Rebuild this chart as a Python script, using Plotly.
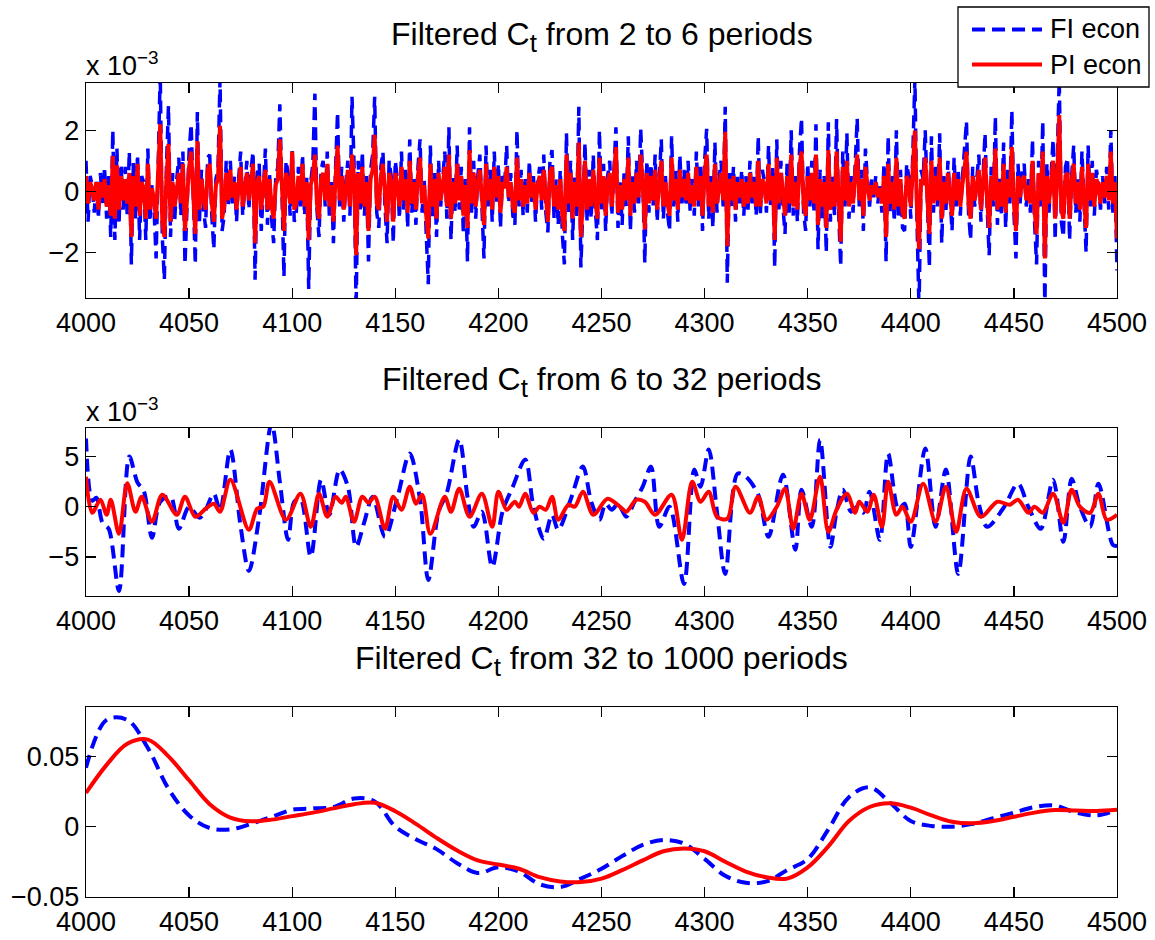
import plotly.graph_objects as go

# ---------------- data ----------------
x_ticks = [4000, 4050, 4100, 4150, 4200, 4250, 4300, 4350, 4400, 4450, 4500]

# Panel 1: filtered C_t, 2-6 periods (units of 1e-3), one value per period 4000..4500
fi1 = [
    1.0, -1.0, 0.5, 0.2, -0.7, 0.4, -0.9, 0.6, -0.5, 0.8,
    -0.9, 0.5, -1.5, 2.0, -1.6, 1.4, -1.1, 0.9, -0.6, 0.8,
    -0.8, 1.3, -2.4, 1.0, -0.9, 1.2, -1.6, 0.5, 0.3, -1.6,
    1.4, -1.0, 0.2, -0.6, -2.2, 1.2, 3.9, -1.5, -2.9, 0.8,
    2.8, -1.5, 0.6, -1.0, 0.4, 1.1, -0.8, 1.3, -2.4, -0.5,
    1.3, 2.2, -0.4, -2.4, 2.6, -1.0, 0.7, -0.6, -1.2, 1.1,
    1.2, -0.8, -1.9, 0.4, 0.7, 3.7, -1.3, -0.8, 1.0, -0.5,
    1.0, -0.4, 0.5, -1.0, 0.4, 1.3, -0.8, 0.2, 1.0, -0.6,
    0.7, 1.3, -2.9, 0.6, 0.9, -1.3, 0.4, 1.4, -1.1, 0.6,
    -0.9, -1.7, 0.4, 0.8, 2.85, -0.4, -2.8, 1.0, 0.6, -0.8,
    1.4, -1.0, -0.7, 0.8, -0.5, 1.2, -0.8, 0.5, -3.2, 0.3,
    0.9, 3.2, -0.6, -1.5, 0.7, 1.0, -0.5, 1.3, -0.8, 0.3,
    -1.7, 0.7, 2.6, -0.5, 0.8, -1.0, 0.3, 1.0, -0.8, 3.1,
    0.9, -3.9, 1.0, -0.7, 1.3, -0.8, 0.5, -2.3, 0.7, 1.2,
    3.1, -0.7, -1.2, 0.8, 1.3, -0.5, -1.7, 1.0, 0.5, -1.7,
    1.0, 0.4, -0.9, 1.3, -0.6, 0.7, -1.2, 1.7, -0.7, 0.5,
    -1.1, 0.8, 1.7, -0.7, 0.4, -1.4, -3.05, 1.5, -0.9, 0.6,
    -1.5, 1.0, -0.5, 0.4, 1.3, -0.9, 2.1, -1.6, 0.5, -0.7,
    1.5, -0.6, 0.8, -1.4, 0.4, -2.3, 2.1, -0.7, 1.0, -0.9,
    0.5, 1.2, -0.7, -2.2, 1.5, -0.5, 0.7, -1.0, 1.3, -0.4,
    0.9, -1.2, 0.5, 0.2, 1.5, -0.4, 0.6, -0.8, -1.1, 2.0,
    -0.5, 0.7, -0.8, 0.4, -0.7, 1.0, -0.4, 0.5, -1.0, 0.3,
    0.8, -0.6, 1.2, -0.7, -1.35, 1.0, 1.35, -0.9, 0.4, -1.1,
    0.7, -1.4, -2.4, 1.9, -0.7, 1.0, -1.6, 0.5, -0.9, 2.77,
    -2.5, -0.5, 1.6, -1.0, 0.7, -0.9, 1.2, -0.6, -1.6, 2.0,
    -0.7, 0.9, -1.3, 0.5, 1.0, -0.8, 0.7, 2.1, -1.2, 0.4,
    -1.1, 0.7, -0.5, 1.8, -1.3, 0.5, -0.7, 1.0, -0.4, 2.05,
    0.5, -2.35, 1.0, -0.7, 0.9, -0.5, 1.2, -1.0, 0.4, 1.7,
    -0.9, 0.5, -0.7, -1.3, 1.8, -0.5, 0.7, -1.0, 1.2, -0.4,
    0.7, -0.5, 1.0, -0.7, 0.4, -0.8, 1.3, -0.5, 0.8, -1.3,
    1.0, 2.05, -0.9, 0.5, -1.2, 1.6, -0.7, 0.4, 1.0, -0.5,
    2.77, -3.0, 0.7, -0.5, 0.8, -1.0, 0.5, -0.4, 0.7, -0.8,
    0.5, -0.7, 1.0, -0.4, 0.5, -0.8, 1.8, -0.8, 0.7, 0.3,
    -0.7, 1.5, -0.5, 0.8, -2.5, 1.7, -0.7, 1.0, -0.5, -1.4,
    0.9, -0.7, 2.0, -0.8, 0.5, -1.0, 1.3, 2.4, -0.7, -1.3,
    0.9, -0.5, 1.0, -0.7, 2.2, -1.9, 0.7, -0.9, 0.5, -2.0,
    2.26, -1.0, 0.5, -0.8, 2.37, -0.7, -2.46, 1.3, -0.5, 1.9,
    -0.9, 0.5, -0.7, 1.0, 2.39, -0.5, 0.7, -1.3, 1.4, 0.3,
    -0.5, 0.4, -0.2, 0.5, -0.4, 0.2, -0.7, 0.9, -2.3, 1.8,
    -0.7, 0.5, -1.0, 2.0, -0.9, 0.7, -1.2, -1.3, 0.9, 0.5,
    -0.9, 1.3, 3.7, -1.0, -3.9, 0.7, 0.4, 2.0, -0.7, -2.5,
    1.8, -0.7, 0.8, -0.5, 1.9, -1.7, 0.5, -0.7, 1.0, -0.4,
    -1.3, 1.1, -0.5, 0.7, -0.8, 0.4, 1.2, 2.3, -0.7, -1.6,
    0.8, -0.5, 0.4, 1.2, -1.0, 0.7, 1.9, -0.5, -2.1, 0.8,
    -0.5, 2.45, -1.1, 0.5, -0.8, 1.6, -1.2, 0.7, -0.4, 2.65,
    -0.7, -2.2, 0.9, -0.4, 0.7, 0.9, -0.5, 0.4, -0.7, 1.7,
    -1.0, -2.4, 1.0, -0.5, 2.3, -3.9, 0.9, -0.7, 0.5, 1.7,
    -1.6, 0.7, 3.7, -1.0, -1.5, 0.8, 1.1, -1.6, 0.5, 1.5,
    -0.7, 0.5, -1.0, 1.3, -0.5, -2.0, 1.5, -0.5, 1.0, -0.8,
    0.7, 0.3, -0.6, 0.5, -0.4, 0.8, -0.6, 2.0, -0.7, 0.5,
    -2.6,
]
pi1 = [
    0.5, -0.4, 0.3, 0.1, -0.3, 0.3, -0.6, 0.3, -0.2, 0.4,
    -0.5, 0.2, -0.8, 1.15, -0.9, 0.85, -0.6, 0.5, -0.3, 0.4,
    -0.4, 0.6, -1.5, 0.5, -0.5, 0.9, -0.8, 0.3, 0.1, -0.9,
    0.9, -0.6, 0.1, -0.3, -0.9, 0.5, 2.2, -1.0, -1.5, 0.4,
    1.55, -1.0, 0.3, -0.5, 0.2, 0.6, -0.4, 0.9, -1.3, -0.3,
    0.8, 1.3, -0.2, -1.4, 1.65, -0.6, 0.4, -0.3, -0.6, 0.7,
    0.9, -0.4, -1.0, 0.2, 0.4, 2.15, -0.9, -0.5, 0.6, -0.3,
    0.7, -0.2, 0.3, -0.6, 0.2, 0.8, -0.5, 0.1, 0.6, -0.3,
    0.4, 0.9, -1.7, 0.3, 0.5, -0.6, 0.2, 0.7, -0.6, 0.4,
    -0.5, -0.9, 0.2, 0.4, 1.7, -0.2, -1.3, 0.6, 0.3, -0.4,
    1.3, -0.6, -0.4, 0.5, -0.3, 0.9, -0.5, 0.3, -1.6, 0.2,
    0.5, 1.2, -0.4, -0.9, 0.4, 0.6, -0.3, 0.9, -0.5, 0.2,
    -1.0, 0.4, 1.5, -0.3, 0.5, -0.6, 0.2, 0.7, -0.5, 1.2,
    0.5, -2.1, 0.6, -0.4, 0.8, -0.5, 0.3, -1.3, 0.4, 0.7,
    1.85, -0.4, -0.6, 0.5, 0.9, -0.3, -1.0, 0.6, 0.3, -1.0,
    0.6, 0.2, -0.5, 0.8, -0.3, 0.4, -0.7, 1.0, -0.4, 0.3,
    -0.6, 0.5, 1.1, -0.4, 0.2, -0.8, -1.55, 0.9, -0.5, 0.4,
    -0.9, 0.6, -0.3, 0.2, 0.8, -0.5, 1.2, -0.9, 0.3, -0.4,
    0.9, -0.3, 0.5, -0.8, 0.2, -1.2, 1.35, -0.4, 0.6, -0.5,
    0.3, 0.7, -0.4, -1.1, 0.9, -0.3, 0.4, -0.6, 0.8, -0.2,
    0.5, -0.7, 0.3, 0.1, 0.8, -0.2, 0.3, -0.5, -0.7, 1.1,
    -0.3, 0.4, -0.5, 0.2, -0.4, 0.6, -0.2, 0.3, -0.6, 0.2,
    0.5, -0.3, 0.7, -0.4, -1.0, 0.6, 0.8, -0.5, 0.2, -0.6,
    0.4, -0.8, -1.3, 1.2, -0.4, 0.6, -0.9, 0.3, -0.5, 1.6,
    -1.5, -0.3, 1.0, -0.6, 0.4, -0.5, 0.7, -0.3, -0.9, 1.1,
    -0.4, 0.5, -0.8, 0.3, 0.6, -0.5, 0.4, 1.45, -0.7, 0.2,
    -0.6, 0.4, -0.3, 1.1, -0.8, 0.3, -0.4, 0.6, -0.2, 1.2,
    0.3, -1.25, 0.6, -0.4, 0.5, -0.3, 0.7, -0.6, 0.2, 1.0,
    -0.5, 0.3, -0.4, -0.8, 1.1, -0.3, 0.4, -0.6, 0.7, -0.2,
    0.4, -0.3, 0.6, -0.4, 0.2, -0.5, 0.8, -0.3, 0.5, -0.8,
    0.6, 1.2, -0.5, 0.3, -0.7, 0.9, -0.4, 0.2, 0.6, -0.3,
    1.95, -1.8, 0.4, -0.3, 0.5, -0.6, 0.3, -0.2, 0.4, -0.5,
    0.3, -0.4, 0.6, -0.2, 0.3, -0.5, 1.0, -0.5, 0.4, 0.2,
    -0.4, 0.9, -0.3, 0.5, -1.6, 1.1, -0.4, 0.6, -0.3, -0.8,
    0.5, -0.4, 1.2, -0.5, 0.3, -0.6, 0.8, 1.3, -0.4, -0.8,
    0.5, -0.3, 0.6, -0.4, 1.2, -1.1, 0.4, -0.5, 0.3, -1.2,
    1.35, -0.6, 0.3, -0.5, 1.3, -0.4, -1.65, 0.8, -0.3, 1.0,
    -0.5, 0.3, -0.4, 0.6, 1.2, -0.3, 0.4, -0.8, 0.8, 0.2,
    -0.3, 0.2, -0.1, 0.3, -0.2, 0.1, -0.4, 0.5, -1.5, 0.9,
    -0.4, 0.3, -0.6, 1.1, -0.5, 0.4, -0.7, -0.9, 0.5, 0.3,
    -0.5, 0.8, 1.99, -0.6, -1.9, 0.4, 0.2, 1.1, -0.4, -1.4,
    1.0, -0.4, 0.5, -0.3, 1.1, -0.9, 0.3, -0.4, 0.6, -0.2,
    -0.8, 0.6, -0.3, 0.4, -0.5, 0.2, 0.7, 1.3, -0.4, -0.9,
    0.5, -0.3, 0.2, 0.7, -0.6, 0.4, 1.1, -0.3, -1.2, 0.5,
    -0.3, 1.4, -0.6, 0.3, -0.5, 0.9, -0.7, 0.4, -0.2, 1.45,
    -0.4, -1.3, 0.5, -0.2, 0.4, 0.5, -0.3, 0.2, -0.4, 1.0,
    -0.6, -1.4, 0.6, -0.3, 1.3, -2.2, 0.5, -0.4, 0.3, 1.0,
    -0.9, 0.4, 2.5, -0.6, -0.9, 0.5, 0.6, -0.9, 0.3, 0.9,
    -0.4, 0.3, -0.6, 0.8, -0.3, -1.2, 0.9, -0.3, 0.6, -0.5,
    0.4, 0.2, -0.4, 0.3, -0.2, 0.5, -0.3, 1.3, -0.4, 0.3,
    -1.55,
]
periods1 = list(range(4000, 4501))
assert len(fi1) == 501 and len(pi1) == 501, (len(fi1), len(pi1))

# Panel 2: filtered C_t, 6-32 periods (units of 1e-3), turning points
fi2_x = [4000, 4003, 4005, 4008, 4011, 4016, 4021, 4025, 4028, 4032, 4036, 4041, 4045, 4050,
         4055, 4058, 4062, 4065, 4070, 4075, 4079, 4084, 4090, 4094, 4098, 4101, 4104, 4109,
         4114, 4118, 4123, 4127, 4131, 4135, 4139, 4145, 4151, 4157, 4162, 4166, 4171, 4175,
         4181, 4185, 4188, 4192, 4197, 4202, 4207, 4213, 4217, 4222, 4226, 4229, 4235, 4241,
         4245, 4249, 4252, 4255, 4258, 4262, 4266, 4270, 4274, 4278, 4283, 4290, 4295, 4298,
         4302, 4306, 4310, 4316, 4320, 4326, 4331, 4338, 4344, 4347, 4352, 4356, 4361, 4364,
         4367, 4371, 4374, 4377, 4380, 4385, 4389, 4394, 4397, 4400, 4407, 4412, 4417, 4423,
         4429, 4433, 4437, 4445, 4452, 4457, 4463, 4469, 4474, 4478, 4482, 4487, 4491, 4498,
         4500]
fi2 = [6.8, 0.6, 0.9, -1.6, -2.2, -8.4, 5.0, 2.4, 1.6, -3.1, 0.5, 1.0, -2.2, 0.0,
       -1.1, -0.3, 1.3, -0.4, 5.7, -2.0, -6.4, -1.0, 8.3, 2.5, -3.3, 0.5, 0.8, -5.0,
       2.7, -0.8, 3.7, 2.0, -4.0, -1.5, 1.0, -3.0, 0.9, 5.3, 0.7, -7.3, -0.5, 1.4,
       6.7, 1.0, -2.0, -0.5, -6.0, -0.5, 2.0, 4.7, 0.0, -3.2, -0.8, -2.3, 0.7, 4.0,
       0.5, -1.3, 0.3, -0.3, 0.3, -1.0, 0.5, 2.0, 4.0, -2.0, 0.0, -7.7, 3.7, 2.0,
       5.7, -0.5, -6.7, 3.3, 3.0, 1.2, -3.0, 3.2, -4.3, 1.7, -2.0, 6.7, -4.0, -0.5,
       1.7, -0.5, 0.0, -0.6, 1.5, -3.3, 5.3, -0.3, 0.3, -4.0, 5.8, -2.0, 3.7, -6.7,
       5.0, 0.3, -2.0, -0.1, 2.3, 0.0, -2.2, 2.7, -3.5, 2.8, 0.0, -2.0, 2.3, -3.8,
       -3.9]
pi2_x = [4000, 4003, 4007, 4010, 4012, 4016, 4020, 4024, 4027, 4032, 4037, 4044, 4048, 4053,
         4058, 4062, 4065, 4070, 4079, 4083, 4086, 4089, 4097, 4104, 4109, 4113, 4117, 4121,
         4124, 4126, 4130, 4134, 4137, 4140, 4145, 4149, 4153, 4157, 4160, 4163, 4167, 4174,
         4177, 4181, 4186, 4192, 4197, 4200, 4204, 4208, 4210, 4213, 4217, 4220, 4223, 4226,
         4229, 4234, 4237, 4241, 4246, 4253, 4260, 4262, 4267, 4271, 4276, 4284, 4289, 4294,
         4298, 4302, 4306, 4311, 4315, 4322, 4326, 4330, 4335, 4339, 4343, 4347, 4351, 4356,
         4360, 4364, 4369, 4373, 4375, 4379, 4382, 4386, 4389, 4393, 4396, 4400, 4406, 4412,
         4417, 4422, 4427, 4434, 4442, 4448, 4452, 4457, 4460, 4464, 4469, 4474, 4478, 4482,
         4487, 4491, 4495, 4500]
pi2 = [3.0, -0.6, 0.7, -0.8, 0.7, -2.7, 2.35, -0.5, 1.0, -1.5, 1.2, -0.8, 1.0, -1.0,
       -0.2, 0.3, -0.5, 2.7, -2.3, -0.2, 0.0, 2.5, -1.3, 1.3, -2.0, 1.3, -1.0, 1.0,
       0.4, 1.0, -1.5, 1.0, 0.4, 1.0, -2.2, 1.0, -0.3, 2.0, 0.3, 1.2, -2.7, 1.0,
       -0.5, 1.8, -1.0, 1.3, -2.0, 1.5, -0.3, 0.5, 0.0, 1.3, -0.6, 0.0, -0.3, 1.0,
       -1.3, 0.2, 0.0, 1.5, -0.8, 0.8, -0.2, -0.5, 0.7, 0.5, -0.8, 1.2, -3.3, 2.5,
       0.5, 1.5, -1.0, -1.2, 2.0, -0.6, 1.0, -1.3, 0.0, 1.8, -2.2, 1.3, -1.3, 3.0,
       -2.5, -0.3, 1.3, -0.6, 0.5, -0.5, 1.2, -2.0, 2.5, -0.8, 0.0, -1.5, 2.3, -1.5,
       2.0, -2.5, 1.8, -1.0, 0.5, 0.2, 0.7, -0.6, 0.0, -0.6, 1.3, -1.6, 1.7, 0.0,
       -0.6, 1.3, -1.3, -0.8]

# Panel 3: filtered C_t, 32-1000 periods, every 10 periods
periods3 = list(range(4000, 4501, 10))
fi3 = [0.042, 0.076, 0.076, 0.056, 0.027, 0.008, -0.001, -0.002, 0.002, 0.007,
       0.012, 0.013, 0.014, 0.020, 0.018, 0.000, -0.009, -0.016, -0.026, -0.033,
       -0.029, -0.032, -0.041, -0.043, -0.037, -0.030, -0.021, -0.013, -0.0095, -0.012,
       -0.023, -0.035, -0.040, -0.039, -0.031, -0.023, -0.002, 0.021, 0.028, 0.017,
       0.004, 0.0005, 0.0, 0.002, 0.006, 0.010, 0.014, 0.015, 0.010, 0.008,
       0.012]
pi3 = [0.024, 0.044, 0.059, 0.062, 0.050, 0.033, 0.016, 0.0065, 0.0038, 0.005,
       0.0075, 0.010, 0.013, 0.016, 0.017, 0.011, 0.002, -0.008, -0.017, -0.024,
       -0.027, -0.030, -0.036, -0.039, -0.0395, -0.037, -0.031, -0.024, -0.0175, -0.0155,
       -0.0175, -0.025, -0.032, -0.036, -0.037, -0.029, -0.014, 0.004, 0.014, 0.0166,
       0.0135, 0.008, 0.0035, 0.0024, 0.004, 0.007, 0.010, 0.0118, 0.0115, 0.0112,
       0.012]

SUB_T = "C<sub><span style=\"font-size:26px\">t</span></sub>"
titles = ["Filtered " + SUB_T + " from 2 to 6 periods",
          "Filtered " + SUB_T + " from 6 to 32 periods",
          "Filtered " + SUB_T + " from 32 to 1000 periods"]
series_names = ["FI econ", "PI econ"]

# ---------------- styling / layout ----------------
W, H = 1155, 940
FONT = "Liberation Sans, Arial, Helvetica, sans-serif"
BLUE = "#0000FF"
RED = "#FF0000"
DASH = "13px,7px"


def px_x(p):
    return p / W


def px_y(p):
    return 1 - p / H


X0, X1 = 86, 1117
panels = [(83, 298), (428, 596), (707, 897)]

fig = go.Figure()

fig.add_trace(go.Scatter(x=periods1, y=fi1, mode="lines", xaxis="x", yaxis="y",
                         line=dict(color=BLUE, width=3.5, dash=DASH), showlegend=False,
                         hoverinfo="skip"))
fig.add_trace(go.Scatter(x=periods1, y=pi1, mode="lines", xaxis="x", yaxis="y",
                         line=dict(color=RED, width=4), showlegend=False, hoverinfo="skip"))
fig.add_trace(go.Scatter(x=fi2_x, y=fi2, mode="lines", xaxis="x2", yaxis="y2",
                         line=dict(color=BLUE, width=4, dash=DASH, shape="spline", smoothing=0.9),
                         showlegend=False, hoverinfo="skip"))
fig.add_trace(go.Scatter(x=pi2_x, y=pi2, mode="lines", xaxis="x2", yaxis="y2",
                         line=dict(color=RED, width=4, shape="spline", smoothing=0.9),
                         showlegend=False, hoverinfo="skip"))
fig.add_trace(go.Scatter(x=periods3, y=fi3, mode="lines", xaxis="x3", yaxis="y3",
                         line=dict(color=BLUE, width=4, dash=DASH, shape="spline"),
                         showlegend=False, hoverinfo="skip"))
fig.add_trace(go.Scatter(x=periods3, y=pi3, mode="lines", xaxis="x3", yaxis="y3",
                         line=dict(color=RED, width=4, shape="spline"),
                         showlegend=False, hoverinfo="skip"))

common_axis = dict(showline=True, linecolor="black", linewidth=1.3, mirror="ticks",
                   ticks="inside", ticklen=10, tickwidth=1.3, tickcolor="black",
                   showgrid=False, zeroline=False, automargin=False,
                   tickfont=dict(family=FONT, size=27, color="black"))

y_ranges = [[-3.5, 3.55], [-8.9, 7.85], [-0.0501, 0.0852]]
y_ticks = [[-2, 0, 2], [-5, 0, 5], [-0.05, 0, 0.05]]
y_ticktext = [["\u22122", "0", "2"], ["\u22125", "0", "5"], ["\u22120.05", "0", "0.05"]]

layout = dict(width=W, height=H, margin=dict(l=0, r=0, t=0, b=0, autoexpand=False),
              paper_bgcolor="white", plot_bgcolor="white", showlegend=False)
for i, (top, bot) in enumerate(panels):
    sfx = "" if i == 0 else str(i + 1)
    layout["xaxis" + sfx] = dict(common_axis, domain=[px_x(X0), px_x(X1)], range=[4000, 4500],
                                 tickvals=x_ticks, anchor="y" + sfx)
    layout["yaxis" + sfx] = dict(common_axis, domain=[px_y(bot), px_y(top)], range=y_ranges[i],
                                 tickvals=y_ticks[i], ticktext=y_ticktext[i], anchor="x" + sfx)
fig.update_layout(**layout)

title_y = [37, 382, 661]
annotations = []
for t, ty in zip(titles, title_y):
    annotations.append(dict(text=t, x=px_x((X0 + X1) / 2), y=px_y(ty), xref="paper", yref="paper",
                            xanchor="center", yanchor="middle", showarrow=False,
                            font=dict(family=FONT, size=32, color="black")))
for ty in [64, 410]:
    annotations.append(dict(text="x 10<sup>\u22123</sup>", x=px_x(X0 - 2), y=px_y(ty), xref="paper",
                            yref="paper", xanchor="left", yanchor="middle", showarrow=False,
                            font=dict(family=FONT, size=27, color="black")))

# legend drawn by hand (box, samples, labels)
LX0, LX1, LY0, LY1 = 958, 1149, 7, 87
shapes = [dict(type="rect", xref="paper", yref="paper", x0=px_x(LX0), x1=px_x(LX1),
               y0=px_y(LY1), y1=px_y(LY0), fillcolor="white",
               line=dict(color="black", width=1.3), layer="above")]
legend_rows = [(series_names[0], BLUE, DASH, 29.5), (series_names[1], RED, "solid", 64.5)]
for name, col, dash, ly in legend_rows:
    shapes.append(dict(type="line", xref="paper", yref="paper", x0=px_x(972), x1=px_x(1042),
                       y0=px_y(ly), y1=px_y(ly), line=dict(color=col, width=4, dash=dash),
                       layer="above"))
    annotations.append(dict(text=name, x=px_x(1048), y=px_y(ly), xref="paper", yref="paper",
                            xanchor="left", yanchor="middle", showarrow=False,
                            font=dict(family=FONT, size=27, color="black")))

fig.update_layout(annotations=annotations, shapes=shapes, hovermode=False)
fig.write_html("out.html", config={"displayModeBar": False, "staticPlot": True},
               post_script="document.body.style.margin='0px';document.body.style.overflow='hidden';")
